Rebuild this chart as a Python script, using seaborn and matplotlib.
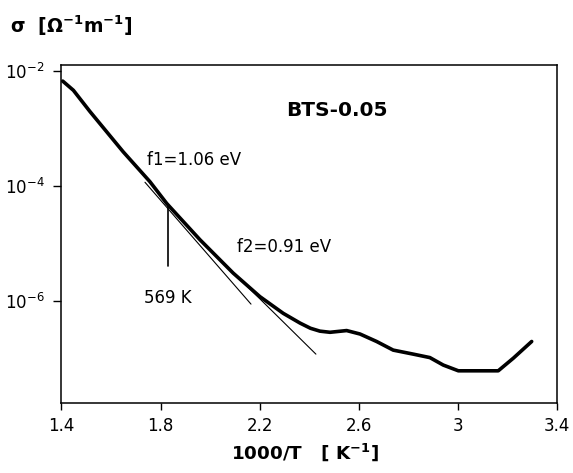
import numpy as np
import pandas as pd
import matplotlib
matplotlib.use("Agg")
import matplotlib.pyplot as plt
import seaborn as sns

# ---- data ----
inv_T = [1.405, 1.448, 1.515, 1.649, 1.757, 1.825, 1.959, 2.093, 2.201, 2.295,
         2.363, 2.405, 2.443, 2.484, 2.551, 2.605, 2.672, 2.739, 2.820, 2.887,
         2.941, 3.002, 3.163, 3.224, 3.298]
log_sigma = [-2.18, -2.34, -2.71, -3.41, -3.93, -4.31, -4.94, -5.52, -5.93, -6.22,
             -6.39, -6.48, -6.53, -6.55, -6.52, -6.58, -6.71, -6.86, -6.93, -6.99,
             -7.12, -7.22, -7.22, -7.00, -6.71]

f1_x = [1.737, 2.165]
f1_log = [-3.94, -6.06]
f2_x = [1.959, 2.427]
f2_log = [-4.94, -6.93]

mark_x = [1.830, 1.830]
mark_log = [-4.355, -5.40]

x_major = [1.4, 1.8, 2.2, 2.6, 3.0, 3.4]
x_major_labels = ["1.4", "1.8", "2.2", "2.6", "3", "3.4"]
x_minor = [1.6, 2.0, 2.4, 2.8, 3.2]
y_major = [1e-2, 1e-4, 1e-6]
y_major_labels = [r"$10^{-2}$", r"$10^{-4}$", r"$10^{-6}$"]
y_minor = [1e-3, 1e-5, 1e-7]

sns.set_style("white")
plt.rcParams["font.family"] = ["DejaVu Sans"]
plt.rcParams["mathtext.default"] = "regular"
plt.rcParams["text.color"] = "black"

df = pd.DataFrame({"x": inv_T, "sigma": np.power(10.0, log_sigma)})
df1 = pd.DataFrame({"x": f1_x, "sigma": np.power(10.0, f1_log)})
df2 = pd.DataFrame({"x": f2_x, "sigma": np.power(10.0, f2_log)})
dm = pd.DataFrame({"x": mark_x, "sigma": np.power(10.0, mark_log)})

fig = plt.figure(figsize=(5.73, 4.73), dpi=100)
ax = fig.add_axes([0.1073, 0.148, 0.8647, 0.7146])

kw = dict(ax=ax, color="black", sort=False, estimator=None, errorbar=None)
sns.lineplot(data=df1, x="x", y="sigma", lw=0.8, **kw)
sns.lineplot(data=df2, x="x", y="sigma", lw=0.8, **kw)
sns.lineplot(data=dm, x="x", y="sigma", lw=1.2, **kw)
sns.lineplot(data=df, x="x", y="sigma", lw=2.6, **kw)

ax.set_yscale("log")
ax.set_xlim(1.4, 3.4)
ax.set_ylim(10 ** -7.78, 10 ** -1.90)

ax.set_xticks(x_major)
ax.set_xticklabels(x_major_labels)
ax.set_xticks(x_minor, minor=True)
ax.set_yticks(y_major)
ax.set_yticklabels(y_major_labels)
ax.set_yticks(y_minor, minor=True)
ax.yaxis.set_minor_formatter(matplotlib.ticker.NullFormatter())

ax.tick_params(axis="both", which="both", direction="out", length=5, width=1.0,
               color="black", labelsize=12, labelcolor="black")
ax.tick_params(axis="x", which="both", pad=5)
ax.tick_params(axis="y", which="both", pad=6, length=6)
ax.tick_params(top=False, right=False, left=True, bottom=True)

for s in ax.spines.values():
    s.set_visible(True)
    s.set_color("black")
    s.set_linewidth(1.1)

ax.set_xlabel("")
ax.set_ylabel("")

ax.text(1.745, 10 ** -3.553, "f1=1.06 eV", fontsize=12, ha="left", va="center", color="black")
ax.text(2.107, 10 ** -5.06, "f2=0.91 eV", fontsize=12, ha="left", va="center", color="black")
ax.text(1.830, 10 ** -5.95, "569 K", fontsize=12, ha="center", va="center", color="black")
ax.text(2.511, 10 ** -2.685, "BTS-0.05", fontsize=14.5, fontweight="bold",
        ha="center", va="center", color="black")

fig.text(10 / 573, 1 - 26 / 473, r"σ  [Ω$^{-1}$m$^{-1}$]", fontsize=13.5, fontweight="bold",
         ha="left", va="center", color="black")
fig.text(305 / 573, 1 - 452 / 473, r"1000/T   [ K$^{-1}$]", fontsize=13.2, fontweight="bold",
         ha="center", va="center", color="black")

fig.savefig("out.png", dpi=100, facecolor="white")
